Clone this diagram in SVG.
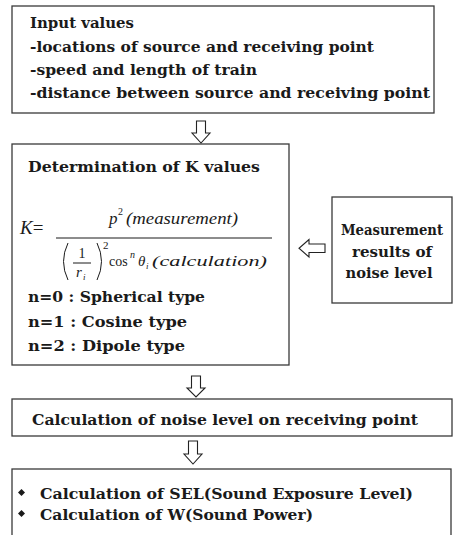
<svg xmlns="http://www.w3.org/2000/svg" width="453" height="535" viewBox="0 0 453 535">
<style>
.t{font-family:'DejaVu Serif','Liberation Serif',serif;font-size:15px;font-weight:bold;fill:#1a1a1a}
.m{font-family:'Liberation Serif','DejaVu Serif',serif;fill:#1a1a1a}
.box{fill:#fff;stroke:#3a3a3a;stroke-width:1.3}
.i{font-style:italic}
.arr{fill:#fff;stroke:#222;stroke-width:1.1;stroke-linejoin:miter}
.ln{stroke:#1a1a1a;stroke-width:1;fill:none}
</style>
<rect width="453" height="535" fill="#fff"/>
<g id="input">
<rect class="box" x="12" y="6" width="422" height="107"/>
<text class="t" x="30" y="28" textLength="104" lengthAdjust="spacingAndGlyphs">Input values</text>
<text class="t" x="30" y="52" textLength="344" lengthAdjust="spacingAndGlyphs">-locations of source and receiving point</text>
<text class="t" x="30" y="75" textLength="227" lengthAdjust="spacingAndGlyphs">-speed and length of train</text>
<text class="t" x="30" y="98" textLength="400" lengthAdjust="spacingAndGlyphs">-distance between source and receiving point</text>
</g>
<g id="kvalues">
<rect class="box" x="12" y="144" width="277" height="221"/>
<text class="t" x="28" y="172" textLength="232" lengthAdjust="spacingAndGlyphs">Determination of K values</text>
<text class="m" x="20" y="234" font-size="19"><tspan class="i">K</tspan>=</text>
<line class="ln" x1="56" y1="238" x2="272" y2="238"/>
<text class="m i" x="109" y="224" font-size="17">p</text>
<text class="m" x="118" y="215" font-size="10">2</text>
<text class="m i" x="126" y="224" font-size="16" textLength="112" lengthAdjust="spacingAndGlyphs">(measurement)</text>
<path class="ln" d="M68 243 Q59 261.5 68 280"/>
<path class="ln" d="M97 243 Q106 261.5 97 280"/>
<text class="m" x="82" y="258" font-size="14" text-anchor="middle">1</text>
<line class="ln" x1="73" y1="263" x2="91" y2="263"/>
<text class="m i" x="76" y="277" font-size="15">r</text>
<text class="m i" x="83" y="280" font-size="9">i</text>
<text class="m" x="103" y="249" font-size="11">2</text>
<text class="m" x="109" y="266" font-size="14">cos</text>
<text class="m i" x="130" y="258" font-size="10">n</text>
<text class="m i" x="138" y="266" font-size="15">θ</text>
<text class="m i" x="146" y="269" font-size="9">i</text>
<text class="m i" x="152" y="266" font-size="15" textLength="115" lengthAdjust="spacingAndGlyphs">(calculation)</text>
<text class="t" x="28" y="302" textLength="177" lengthAdjust="spacingAndGlyphs">n=0 : Spherical type</text>
<text class="t" x="28" y="327" textLength="159" lengthAdjust="spacingAndGlyphs">n=1 : Cosine type</text>
<text class="t" x="28" y="351" textLength="157" lengthAdjust="spacingAndGlyphs">n=2 : Dipole type</text>
</g>
<g id="measurement">
<rect class="box" x="332" y="197" width="120" height="106"/>
<text class="t" x="392" y="235" text-anchor="middle" textLength="102" lengthAdjust="spacingAndGlyphs">Measurement</text>
<text class="t" x="392" y="257" text-anchor="middle" textLength="80" lengthAdjust="spacingAndGlyphs">results of</text>
<text class="t" x="389" y="278" text-anchor="middle" textLength="87" lengthAdjust="spacingAndGlyphs">noise level</text>
</g>
<g id="calculation">
<rect class="box" x="12" y="399" width="440" height="37"/>
<text class="t" x="32" y="425" textLength="386" lengthAdjust="spacingAndGlyphs">Calculation of noise level on receiving point</text>
</g>
<g id="results">
<rect class="box" x="12" y="469" width="439" height="80"/>
<path d="M21.5 489 L25 492.5 L21.5 496 L18 492.5 Z" fill="#1a1a1a"/>
<text class="t" x="40" y="499" textLength="373" lengthAdjust="spacingAndGlyphs">Calculation of SEL(Sound Exposure Level)</text>
<path d="M21.5 510 L25 513.5 L21.5 517 L18 513.5 Z" fill="#1a1a1a"/>
<text class="t" x="40" y="520" textLength="273" lengthAdjust="spacingAndGlyphs">Calculation of W(Sound Power)</text>
</g>
<g id="connectors">
<path class="arr" d="M196.5 121 H205.5 V133 H210 L201 143 L192 133 H196.5 Z"/>
<path class="arr" d="M191.5 376 H200.5 V388 H205 L196 397 L187 388 H191.5 Z"/>
<path class="arr" d="M188.5 441 H197.5 V454 H202 L193 464 L184 454 H188.5 Z"/>
<path class="arr" d="M325 244 V252.5 H309 V257 L299 248.25 L309 239.5 V244 Z"/>
</g>
</svg>
